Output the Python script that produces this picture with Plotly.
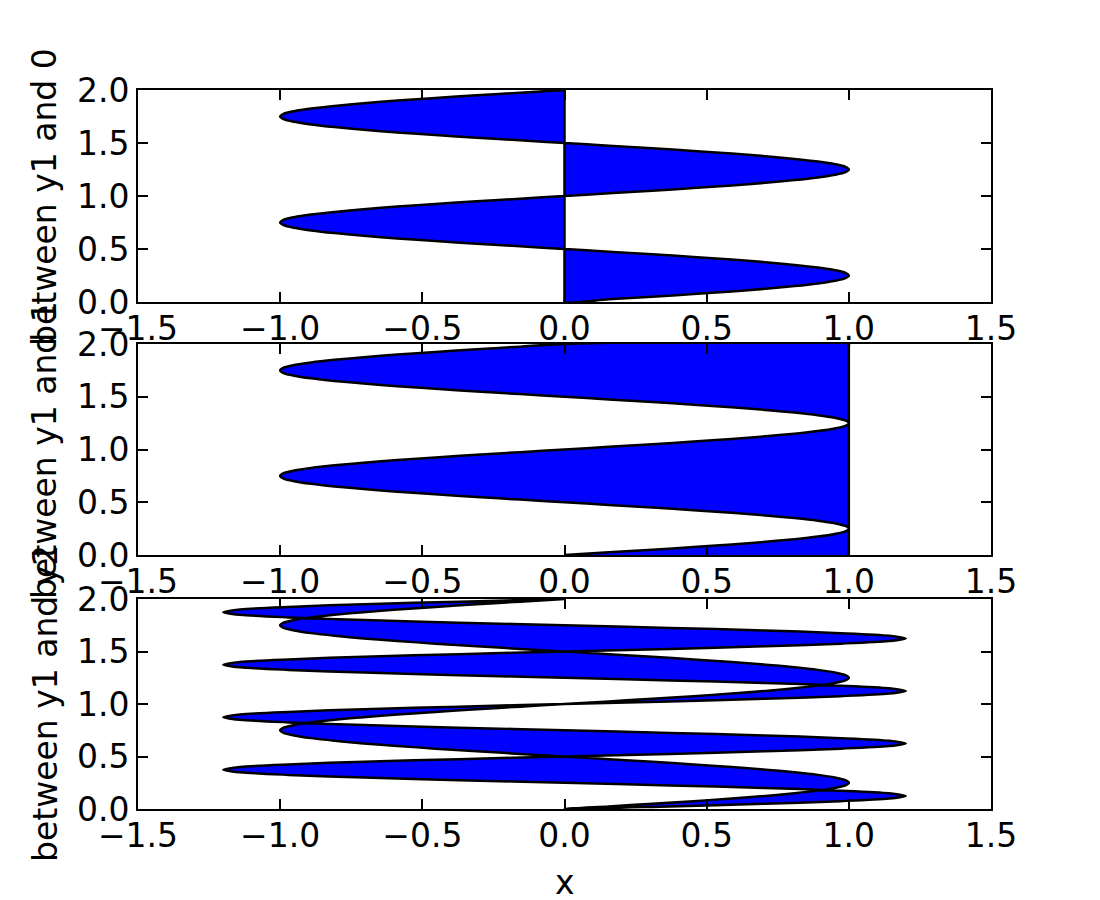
import plotly.graph_objects as go

# sampled y positions (0 to 2)
y = [0.0, 0.025, 0.05, 0.075, 0.1, 0.125, 0.15, 0.175, 0.2, 0.225,
     0.25, 0.275, 0.3, 0.325, 0.35, 0.375, 0.4, 0.425, 0.45, 0.475,
     0.5, 0.525, 0.55, 0.575, 0.6, 0.625, 0.65, 0.675, 0.7, 0.725,
     0.75, 0.775, 0.8, 0.825, 0.85, 0.875, 0.9, 0.925, 0.95, 0.975,
     1.0, 1.025, 1.05, 1.075, 1.1, 1.125, 1.15, 1.175, 1.2, 1.225,
     1.25, 1.275, 1.3, 1.325, 1.35, 1.375, 1.4, 1.425, 1.45, 1.475,
     1.5, 1.525, 1.55, 1.575, 1.6, 1.625, 1.65, 1.675, 1.7, 1.725,
     1.75, 1.775, 1.8, 1.825, 1.85, 1.875, 1.9, 1.925, 1.95, 1.975, 2.0]

# curve y1 (x values read at each y)
x1 = [0.0, 0.156, 0.309, 0.454, 0.588, 0.707, 0.809, 0.891, 0.951, 0.988,
      1.0, 0.988, 0.951, 0.891, 0.809, 0.707, 0.588, 0.454, 0.309, 0.156,
      0.0, -0.156, -0.309, -0.454, -0.588, -0.707, -0.809, -0.891, -0.951, -0.988,
      -1.0, -0.988, -0.951, -0.891, -0.809, -0.707, -0.588, -0.454, -0.309, -0.156,
      0.0, 0.156, 0.309, 0.454, 0.588, 0.707, 0.809, 0.891, 0.951, 0.988,
      1.0, 0.988, 0.951, 0.891, 0.809, 0.707, 0.588, 0.454, 0.309, 0.156,
      0.0, -0.156, -0.309, -0.454, -0.588, -0.707, -0.809, -0.891, -0.951, -0.988,
      -1.0, -0.988, -0.951, -0.891, -0.809, -0.707, -0.588, -0.454, -0.309, -0.156, 0.0]

# curve y2 (x values read at each y)
x2 = [0.0, 0.371, 0.705, 0.971, 1.141, 1.2, 1.141, 0.971, 0.705, 0.371,
      0.0, -0.371, -0.705, -0.971, -1.141, -1.2, -1.141, -0.971, -0.705, -0.371,
      0.0, 0.371, 0.705, 0.971, 1.141, 1.2, 1.141, 0.971, 0.705, 0.371,
      0.0, -0.371, -0.705, -0.971, -1.141, -1.2, -1.141, -0.971, -0.705, -0.371,
      0.0, 0.371, 0.705, 0.971, 1.141, 1.2, 1.141, 0.971, 0.705, 0.371,
      0.0, -0.371, -0.705, -0.971, -1.141, -1.2, -1.141, -0.971, -0.705, -0.371,
      0.0, 0.371, 0.705, 0.971, 1.141, 1.2, 1.141, 0.971, 0.705, 0.371,
      0.0, -0.371, -0.705, -0.971, -1.141, -1.2, -1.141, -0.971, -0.705, -0.371, 0.0]

baseline_0 = [0.0] * len(y)
baseline_1 = [1.0] * len(y)

panel_labels = ["between y1 and 0", "between y1 and 1", "between y1 and y2"]
x_title = "x"

FONT = "DejaVu Sans"
FS = 33
OFF = 8  # page body margin offset in the browser

W, H = 1100, 900


def px_x(p):
    return (p - OFF) / W


def px_y(p):
    return 1 - (p - OFF) / H


fig = go.Figure()

pairs = [(x1, baseline_0), (x1, baseline_1), (x1, x2)]
axis_ids = ["", "2", "3"]
for (a, b), aid in zip(pairs, axis_ids):
    fig.add_trace(go.Scatter(
        x=list(a) + list(b)[::-1],
        y=list(y) + list(y)[::-1],
        fill="toself", fillcolor="#0000ff",
        mode="lines",
        line=dict(color="black", width=2.5, shape="spline", smoothing=0.8),
        xaxis="x" + aid, yaxis="y" + aid,
        showlegend=False, hoverinfo="skip",
    ))

xdom = [px_x(138), px_x(991)]
ydoms = [[px_y(302), px_y(90)],
         [px_y(555), px_y(344)],
         [px_y(809), px_y(599)]]

axis_common = dict(
    showgrid=False, zeroline=False, showline=True, linecolor="black",
    linewidth=2, mirror="allticks", ticks="inside", ticklen=10,
    tickwidth=1.5, tickcolor="black", automargin=False,
    tickfont=dict(family=FONT, size=FS, color="black"),
    tickformat=".1f",
)

layout = dict(
    width=W, height=H,
    margin=dict(l=0, r=0, t=0, b=0, autoexpand=False),
    paper_bgcolor="white", plot_bgcolor="white",
    showlegend=False,
)
for i, aid in enumerate(axis_ids):
    layout["xaxis" + aid] = dict(axis_common, domain=xdom, range=[-1.5, 1.5],
                                 dtick=0.5, tick0=-1.5, anchor="y" + aid,
                                 ticklabelstandoff=-4)
    layout["yaxis" + aid] = dict(axis_common, domain=ydoms[i], range=[0, 2],
                                 dtick=0.5, tick0=0, anchor="x" + aid)
fig.update_layout(**layout)

centers = [197, 450, 704]
for lab, cy in zip(panel_labels, centers):
    fig.add_annotation(text=lab, x=px_x(45), y=px_y(cy),
                       xref="paper", yref="paper", showarrow=False,
                       textangle=-90, xanchor="center", yanchor="middle",
                       font=dict(family=FONT, size=FS, color="black"))
fig.add_annotation(text=x_title, x=px_x(565), y=px_y(882),
                   xref="paper", yref="paper", showarrow=False,
                   xanchor="center", yanchor="middle",
                   font=dict(family=FONT, size=FS, color="black"))

fig.write_html("out.html")
